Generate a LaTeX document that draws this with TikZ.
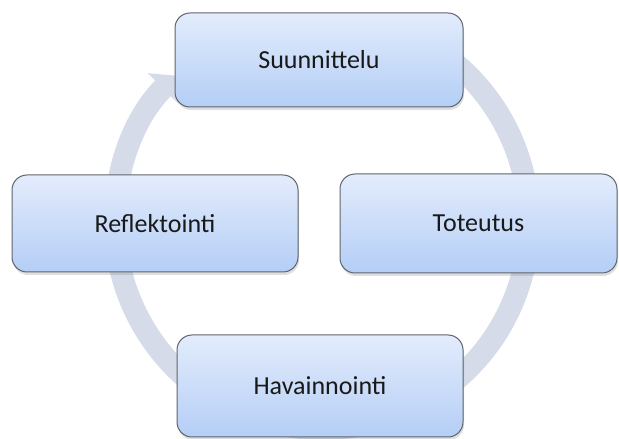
\documentclass[tikz,border=0pt]{standalone}
\usepackage{fontspec}
\setmainfont{Carlito}
\usetikzlibrary{arrows.meta,shadows}

\definecolor{bandgray}{RGB}{214,219,233}
\definecolor{boxtop}{RGB}{227,236,252}
\definecolor{boxbottom}{RGB}{180,206,246}
\definecolor{boxline}{RGB}{96,100,108}

\begin{document}
\begin{tikzpicture}[
    x=1pt, y=1pt,
    stage/.style={rectangle, rounded corners=15pt, draw=boxline, line width=1pt,
        top color=boxtop, bottom color=boxbottom, text=black!90,
        font=\fontsize{26}{30}\selectfont, inner sep=0pt,
        drop shadow={shadow xshift=1pt, shadow yshift=-3pt, opacity=0.25}},
    band/.style={draw=bandgray, line width=22pt,
        -{Triangle[width=42pt, length=18pt]}}
]
    \useasboundingbox (0,0) rectangle (619,439);

    % Centre of the cycle
    \coordinate (c) at (322,217);

    % Cycle arrow behind the boxes
    \draw[band] ([shift={(70:207)}]c) arc[start angle=70, end angle=-225, radius=207];

    % Stages
    \node[stage, minimum width=288pt, minimum height=94pt] (plan) at (319,379) {Suunnittelu};
    \node[stage, minimum width=277pt, minimum height=99pt] (act) at (478.5,215.5) {Toteutus};
    \node[stage, minimum width=286pt, minimum height=102pt] (observe) at (320,53) {Havainnointi};
    \node[stage, minimum width=286pt, minimum height=97pt] (reflect) at (155,215.5) {Reflektointi};

\end{tikzpicture}
\end{document}
